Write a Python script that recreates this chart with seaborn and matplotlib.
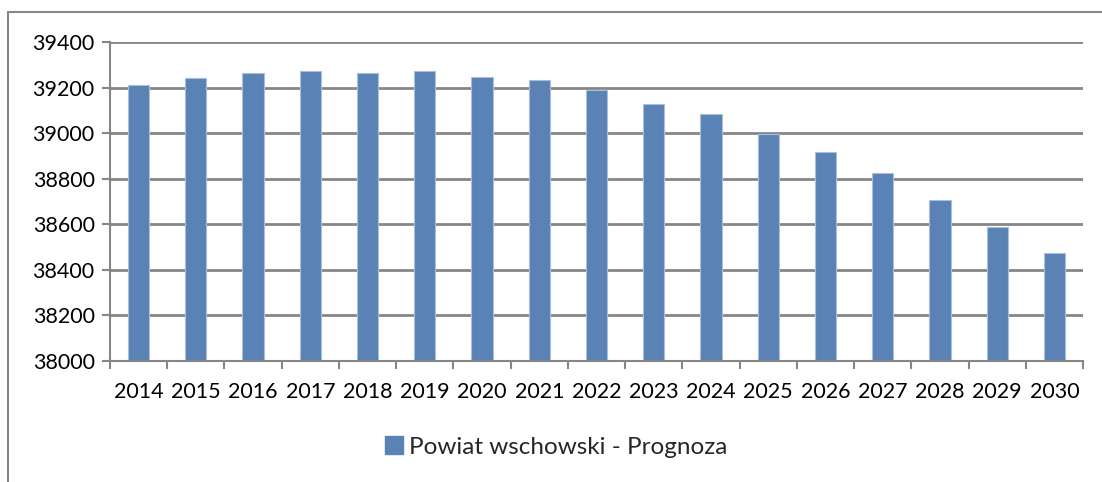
import numpy as np
import pandas as pd
import seaborn as sns
import matplotlib.pyplot as plt
from matplotlib.lines import Line2D
from matplotlib.patches import Patch

years = [str(y) for y in range(2014, 2031)]
population = [39210, 39242, 39263, 39271, 39266, 39273, 39247, 39232, 39188,
              39130, 39085, 38998, 38918, 38825, 38708, 38588, 38473]
series_name = "Powiat wschowski - Prognoza"
yticks = [38000, 38200, 38400, 38600, 38800, 39000, 39200, 39400]

bar_color = "#5b82b4"
grid_color = "#868686"

df = pd.DataFrame({"year": years, "value": population})

sns.set_theme(style="white")
plt.rcParams["font.family"] = ["Lato", "DejaVu Sans"]

fig = plt.figure(figsize=(11.02, 4.82), dpi=100)
ax = fig.add_axes([110 / 1102, 1 - 361 / 482, (1083 - 110) / 1102, (361 - 42) / 482])

sns.barplot(data=df, x="year", y="value", color=bar_color, width=0.37,
            edgecolor="#a9bfdc", linewidth=0.8, saturation=1, ax=ax)

ax.set_ylim(38000, 39400)
ax.set_xlim(-0.5, len(years) - 0.5)
ax.set_yticks(yticks)
ax.set_yticklabels([str(v) for v in yticks])
ax.set_xlabel("")
ax.set_ylabel("")

ax.yaxis.grid(True, color=grid_color, linewidth=2)
ax.set_axisbelow(True)

for s in ["top", "right"]:
    ax.spines[s].set_visible(False)
for s in ["left", "bottom"]:
    ax.spines[s].set_color(grid_color)
    ax.spines[s].set_linewidth(1.5)

ax.tick_params(axis="y", which="major", length=6, width=1.5, color=grid_color,
               labelsize=15.5, pad=5, left=True)
ax.tick_params(axis="x", which="major", length=0, labelsize=15.5, pad=15)
ax.set_xticks(np.arange(-0.5, len(years)), minor=True)
ax.tick_params(axis="x", which="minor", length=6, width=1.5, color=grid_color,
               bottom=True)
for lab in ax.get_xticklabels() + ax.get_yticklabels():
    lab.set_color("#000000")

# outer chart frame (cut off at the right and bottom)
fig.add_artist(Line2D([8 / 1102, 8 / 1102], [0, 1 - 12 / 482],
                      transform=fig.transFigure, color=grid_color, linewidth=1.5))
fig.add_artist(Line2D([8 / 1102, 1], [1 - 12 / 482, 1 - 12 / 482],
                      transform=fig.transFigure, color=grid_color, linewidth=1.5))

handle = Patch(facecolor=bar_color, edgecolor=bar_color)
fig.legend([handle], [series_name], loc="center", bbox_to_anchor=(0.505, 1 - 447 / 482),
           frameon=False, fontsize=17.5, handlelength=0.75, handleheight=0.75,
           handletextpad=0.25)

fig.savefig("out.png", dpi=100)
